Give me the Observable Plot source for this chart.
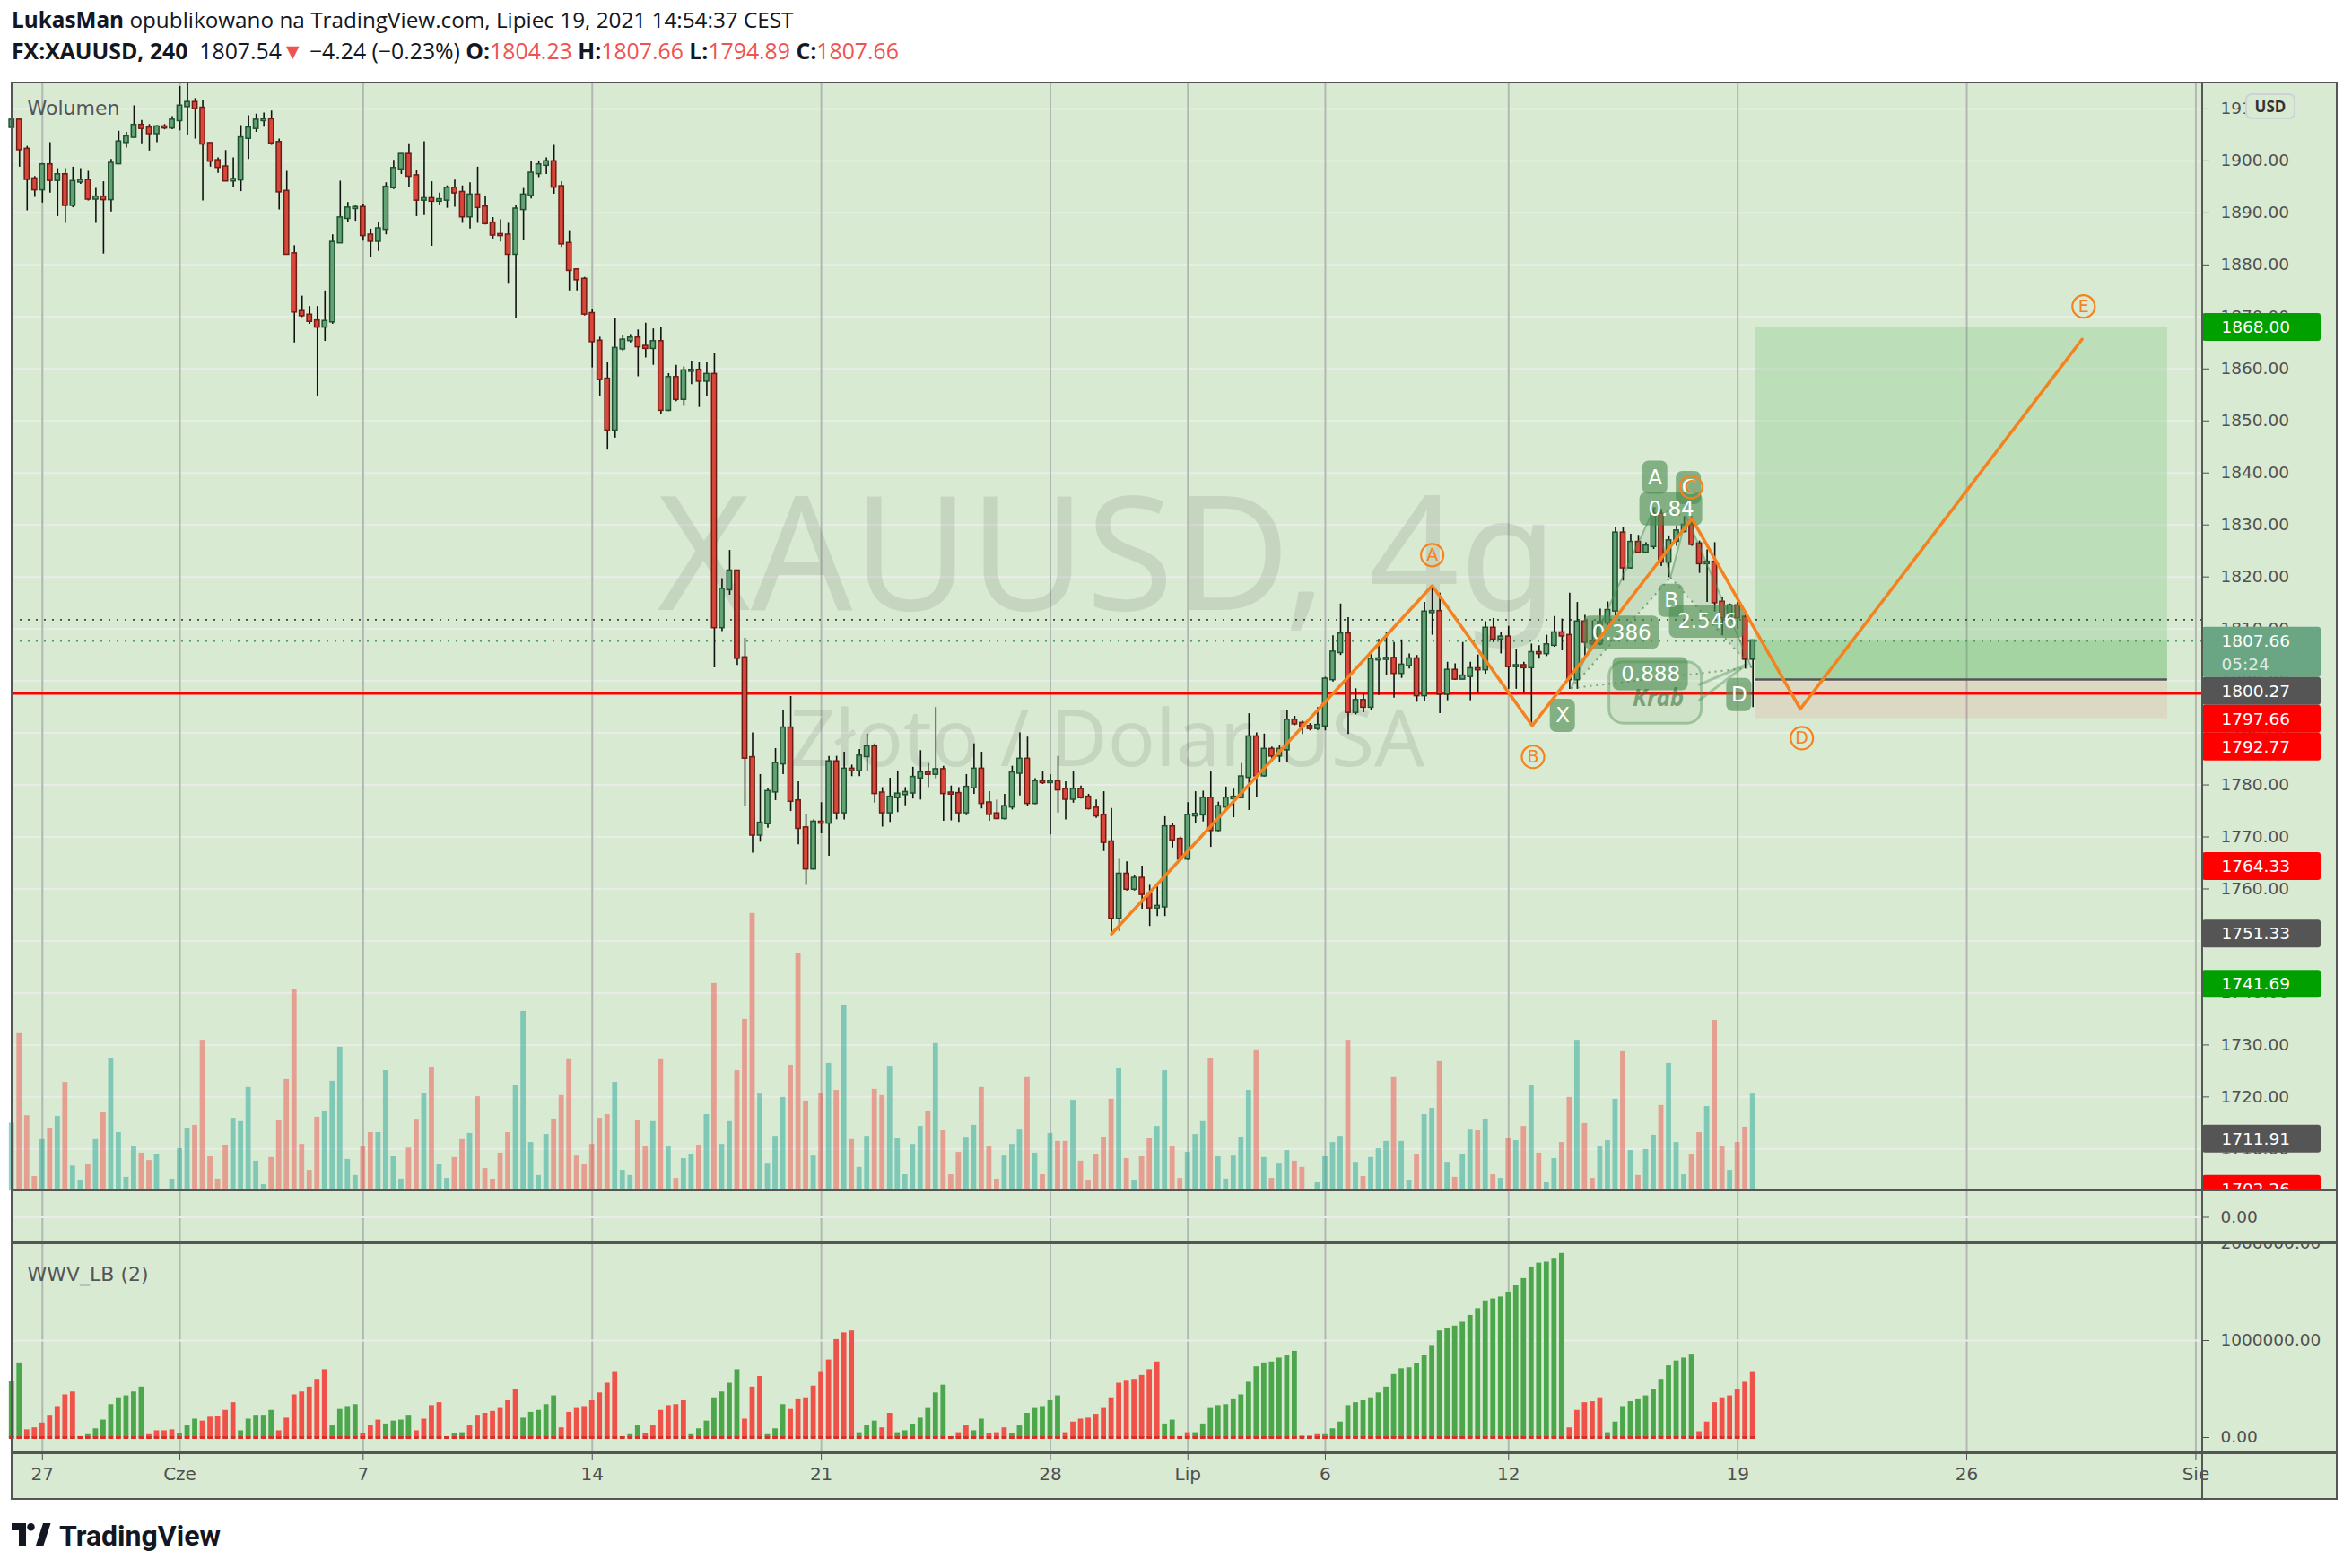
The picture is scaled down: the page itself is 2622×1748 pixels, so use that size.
<!DOCTYPE html>
<html>
<head>
<meta charset="utf-8">
<script src="https://cdn.jsdelivr.net/npm/d3@7"></script>
<script src="https://cdn.jsdelivr.net/npm/@observablehq/plot@0.6"></script>
<style>
  html, body { margin: 0; padding: 0; background: #ffffff; }
  #root { position: relative; width: 2622px; height: 1748px; overflow: hidden; }
  .abs { position: absolute; }
  .red { color: #ef5350; }
</style>
</head>
<body>
<div id="root"></div>
<script>
// ---------------- DATA ----------------
const opens = [1906.5,1907.8,1902.2,1896.5,1894.5,1899.2,1896.3,1897.3,1891.5,1896,
1896.2,1892.7,1893,1892.6,1899.5,1903.6,1904.6,1906.8,1906.3,1905.3,
1906.5,1906.4,1907.8,1910.5,1911.2,1910.1,1903.3,1900,1898.8,1896.2,
1896.4,1904.4,1906.3,1907.8,1907.9,1903.5,1894.1,1882.1,1871,1870.3,
1869.2,1868.1,1869.1,1884.3,1889,1890.9,1891,1885.7,1884.6,1886.9,
1894.9,1898.5,1901.2,1897.1,1892.5,1892.7,1892.3,1892.5,1894.7,1893.9,
1889.3,1893.4,1891.1,1888,1885.8,1885.7,1882.1,1890.7,1893.4,1897.6,
1899.2,1899.8,1895,1884.1,1879,1877.2,1870.6,1865.3,1858,1848.3,
1863.9,1865.5,1865.9,1864.3,1864,1865.2,1852.1,1858.3,1854.2,1859.6,
1859.7,1857.7,1858.9,1810.3,1817.6,1821.1,1804.4,1785.2,1770.4,1772.6,
1778.7,1784.1,1790.9,1776.9,1771.7,1763.9,1772.8,1772.7,1784.4,1774.7,
1783,1782.8,1785.5,1787.3,1778.4,1774.7,1777.6,1778.2,1778.5,1781.4,
1782.3,1782.1,1782.9,1778.4,1778.3,1774.7,1779.5,1783,1776.5,1774.4,
1773.6,1775.8,1782.3,1784.9,1776.5,1780.6,1780.5,1780.6,1779.1,1777.3,
1779.1,1777.6,1775.5,1774.1,1769,1754.4,1762.8,1760,1762,1759,
1756.4,1756.6,1771.9,1769.5,1765.8,1774.1,1774.3,1777.4,1771.3,1775.8,
1777.4,1777.6,1781.5,1789.2,1781.8,1786.8,1785.6,1786.8,1792.4,1791.8,
1791.2,1790.9,1791.4,1800.3,1805.5,1809,1794,1796.2,1795,1804.1,
1804.2,1804.3,1801.5,1803,1804.2,1797.2,1813.2,1813.3,1797.5,1802,
1800.4,1800.9,1802.3,1802.2,1810.1,1808.1,1808.4,1802.8,1802.9,1802.6,
1805.4,1805.3,1806.9,1809.2,1808.7,1800.3,1811.3,1807.5,1807.2,1811.2,
1813.5,1828.4,1821.8,1826.6,1824.8,1825.9,1832,1822.9,1826.9,1828.8,
1829.9,1826.3,1822.6,1822.8,1815.1,1812.2,1814.4,1812.2,1804.23];

const highs = [1908,1908,1902.8,1897,1899.5,1903.5,1898.5,1898.5,1898.8,1898.5,
1898,1894.7,1896,1900.3,1905.7,1905.5,1910.6,1907.8,1907,1906.8,
1907,1908.5,1914.3,1916,1912,1911.7,1903.5,1900.6,1902,1900.6,
1906.8,1908.7,1909,1909.2,1909.6,1904.2,1898,1883.7,1874,1872,
1872,1875,1885.8,1896.1,1892,1891.5,1891.7,1886.9,1888.2,1895.8,
1900.1,1901.4,1903.3,1898.1,1903.7,1896,1893.8,1895.2,1896.3,1895.2,
1895.8,1898.8,1893.1,1889.1,1888.7,1888,1891.4,1894.7,1899.8,1900,
1900.6,1903,1896,1886.6,1879.2,1877.6,1871.5,1866.1,1861.2,1869.7,
1866.4,1866.6,1867.5,1868.8,1867.7,1867.9,1859.1,1860.7,1860.4,1861.5,
1861.2,1861.2,1862.9,1819.7,1825.1,1821.3,1808.2,1790,1782,1779.3,
1787,1794.4,1797,1780.6,1774.4,1773.3,1776.6,1785.5,1785.5,1786.3,
1783.8,1786.8,1789.8,1787.9,1779.5,1781.3,1782.7,1779.5,1783.4,1786.6,
1784.1,1794.9,1783.6,1779.8,1779.5,1782,1787.9,1786.3,1778.7,1777.1,
1778.2,1783.6,1790,1789.2,1781.2,1782.5,1782,1785.5,1780.6,1782.5,
1779.8,1778.2,1777.1,1778.7,1775.5,1765.7,1765.2,1762.5,1764.4,1760.7,
1760.4,1773.9,1772.6,1770,1776.6,1778.7,1778.8,1782.5,1776.7,1779.6,
1779.2,1784.1,1793.7,1790,1789.8,1787.3,1787.5,1794.3,1793.2,1792.3,
1791.8,1794.9,1800.7,1808.7,1814.8,1812.2,1798.5,1797.7,1805.5,1808,
1809.3,1807.4,1807.9,1805.2,1804.9,1815.1,1818.3,1816.9,1803.6,1803.3,
1807.4,1803.6,1805,1811.4,1812,1809.3,1810.5,1806.1,1803.6,1807.1,
1806.8,1808.8,1812.4,1811.9,1816.9,1815.1,1812.6,1811.6,1813.8,1815.2,
1829.6,1829.6,1828.2,1828,1826.6,1833.3,1833,1827.9,1829.8,1831.6,
1831.6,1826.9,1825.2,1826.6,1816,1814.8,1815.1,1812.9,1807.66];

const lows = [1906,1898.8,1890.4,1893,1891.9,1893.8,1889.3,1888,1891,1895.5,
1892.3,1888,1882.1,1890.2,1899.3,1902.5,1904.4,1903.3,1901.9,1903.5,
1906,1906,1905.8,1905,1904.2,1892.3,1898.8,1897.6,1896,1894.9,
1894.1,1900.3,1905.5,1906.5,1903,1890.6,1882,1865,1869.9,1868.6,
1854.8,1865.3,1868.6,1884.3,1888.2,1888.4,1884.6,1881.5,1882.6,1885.8,
1894.5,1897.4,1894.9,1889.3,1889.5,1883.6,1891.4,1890.9,1891.1,1888,
1886.9,1888,1887.7,1885,1884.4,1876.3,1869.7,1884.8,1892.7,1896.8,
1897.4,1893.6,1883.4,1875,1875,1870.2,1860.2,1854.8,1844.4,1846.7,
1863.4,1865,1858.5,1862.1,1860.7,1851.3,1851.8,1853.7,1852.8,1857,
1852.6,1854.8,1802.5,1809.5,1816.5,1803,1775.8,1766.9,1769,1771.7,
1777,1782,1774.9,1768.5,1760.7,1763.6,1770.6,1766.3,1773.3,1773.3,
1781.6,1781.6,1782.5,1776.5,1771.9,1772.8,1774.7,1776,1777.3,1777.1,
1779.5,1781.2,1773,1773.1,1772.8,1774.1,1778.2,1775.4,1773,1773.3,
1773.3,1775.2,1777.9,1775.8,1776.2,1780.1,1770.4,1774.6,1773.3,1776.5,
1777.3,1775.2,1773.6,1767.2,1751.33,1751.8,1759.6,1759.6,1756.1,1752.8,
1754.7,1754.7,1767.9,1765.2,1765.5,1772.6,1772.9,1768,1771,1775.5,
1773.7,1777.4,1775.1,1777.5,1781.5,1784.4,1784.4,1784.4,1791.4,1789.7,
1790.4,1790.5,1790.4,1799.8,1804.9,1789.7,1793.5,1793.9,1794.3,1797.2,
1801,1796.7,1800.5,1802.3,1795.9,1796,1808.8,1793.7,1796.2,1800.1,
1800.2,1796.2,1797.8,1801.3,1807.4,1805.2,1798.4,1798.4,1797.8,1791.4,
1804.2,1804.7,1806.5,1805.8,1798.4,1798.4,1804.3,1806.1,1806.8,1810,
1812.5,1819.2,1821.5,1824.5,1824.5,1825.3,1822,1819.9,1825.9,1828.5,
1825.9,1820.7,1815.1,1813.3,1808.7,1811.8,1810,1802.3,1794.89];

const closes = [1907.8,1902.2,1896.5,1894.5,1899.2,1896.3,1897.3,1891.5,1896,1896.2,
1892.7,1893,1892.6,1899.5,1903.6,1904.6,1906.8,1906.3,1905.3,1906.5,
1906.4,1907.8,1910.5,1911.2,1910.1,1903.3,1900,1898.8,1896.2,1896.4,
1904.4,1906.3,1907.8,1907.9,1903.5,1894.1,1882.1,1871,1870.3,1869.2,
1868.1,1869.1,1884.3,1889,1890.9,1891,1885.7,1884.6,1886.9,1894.9,
1898.5,1901.2,1897.1,1892.5,1892.7,1892.3,1892.5,1894.7,1893.9,1889.3,
1893.4,1891.1,1888,1885.8,1885.7,1882.1,1890.7,1893.4,1897.6,1899.2,
1899.8,1895,1884.1,1879,1877.2,1870.6,1865.3,1858,1848.3,1863.9,
1865.5,1865.9,1864.3,1864,1865.2,1852.1,1858.3,1854.2,1859.6,1859.7,
1857.7,1858.9,1810.3,1817.6,1821.1,1804.4,1785.2,1770.4,1772.6,1778.7,
1784.1,1790.9,1776.9,1771.7,1763.9,1772.8,1772.7,1784.4,1774.7,1783,
1782.8,1785.5,1787.3,1778.4,1774.7,1777.6,1778.2,1778.5,1781.4,1782.3,
1782.1,1782.9,1778.4,1778.3,1774.7,1779.5,1783,1776.5,1774.4,1773.6,
1775.8,1782.3,1784.9,1776.5,1780.6,1780.5,1780.6,1779.1,1777.3,1779.1,
1777.6,1775.5,1774.1,1769,1754.4,1762.8,1760,1762,1759,1756.4,
1756.6,1771.9,1769.5,1765.8,1774.1,1774.3,1777.4,1771.3,1775.8,1777.4,
1777.6,1781.5,1789.2,1781.8,1786.8,1785.6,1786.8,1792.4,1791.8,1791.2,
1790.9,1791.4,1800.3,1805.5,1809,1794,1796.2,1795,1804.1,1804.2,
1804.3,1801.5,1803,1804.2,1797.2,1813.2,1813.3,1797.5,1802,1800.4,
1800.9,1802.3,1802.2,1810.1,1808.1,1808.4,1802.8,1802.9,1802.6,1805.4,
1805.3,1806.9,1809.2,1808.7,1800.3,1811.3,1807.5,1807.2,1811.2,1813.5,
1828.4,1821.8,1826.6,1824.8,1825.9,1832,1822.9,1826.9,1828.8,1829.9,
1826.3,1822.6,1822.8,1815.1,1812.2,1814.4,1812.2,1804.23,1807.66];

const volumes = [185,429,205,39,140,171,203,296,68,27,
71,140,213,362,159,37,120,103,83,100,
5,32,115,171,179,411,93,32,125,198,
189,282,81,17,91,191,304,549,127,56,
201,218,299,392,86,42,120,159,159,328,
93,32,117,193,267,336,71,34,91,140,
157,257,61,32,103,159,287,490,132,42,
154,196,260,358,95,71,127,198,208,296,
56,42,191,122,189,358,122,34,88,100,
125,208,566,127,189,328,468,757,264,73,
149,255,343,649,245,95,267,348,274,507,
140,64,149,277,260,340,142,44,127,176,
218,402,164,44,105,144,179,282,120,32,
95,127,166,309,103,44,157,135,135,247,
81,27,100,147,250,333,88,27,93,142,
176,328,122,34,105,154,189,360,93,32,
95,147,274,385,91,34,73,110,81,64,
5,22,93,132,149,411,78,39,91,115,
135,309,135,29,100,208,225,353,78,37,
100,166,164,196,44,34,142,137,176,287,
103,22,88,132,255,411,184,34,120,137,
250,380,110,42,113,152,233,348,132,44,
100,159,230,465,120,56,132,174,264];

// Weis Wave Volume (millions)
const wwv = [0.58,0.77,0.08,0.10,0.15,0.23,0.32,0.44,0.47,0.01,
0.03,0.09,0.18,0.34,0.41,0.43,0.47,0.52,0.03,0.07,
0.07,0.08,0.04,0.12,0.19,0.17,0.21,0.22,0.28,0.36,
0.07,0.19,0.23,0.23,0.28,0.07,0.20,0.44,0.47,0.52,
0.60,0.70,0.12,0.29,0.32,0.34,0.04,0.12,0.18,0.14,
0.17,0.18,0.23,0.07,0.19,0.33,0.36,0.01,0.04,0.05,
0.12,0.23,0.25,0.27,0.30,0.38,0.50,0.20,0.26,0.28,
0.34,0.43,0.10,0.26,0.30,0.32,0.38,0.46,0.56,0.68,
0.01,0.03,0.12,0.04,0.12,0.28,0.33,0.34,0.38,0.03,
0.09,0.17,0.41,0.47,0.56,0.70,0.19,0.52,0.63,0.03,
0.09,0.34,0.29,0.39,0.41,0.53,0.68,0.80,1.01,1.08,
1.10,0.05,0.12,0.17,0.10,0.25,0.05,0.07,0.13,0.20,
0.30,0.46,0.54,0.01,0.05,0.12,0.07,0.19,0.04,0.05,
0.10,0.04,0.12,0.25,0.30,0.32,0.38,0.43,0.05,0.16,
0.19,0.20,0.24,0.30,0.41,0.56,0.59,0.60,0.64,0.70,
0.78,0.14,0.18,0.01,0.05,0.05,0.14,0.30,0.33,0.34,
0.39,0.44,0.57,0.73,0.77,0.78,0.82,0.85,0.89,0.015,
0.015,0.03,0.03,0.09,0.16,0.33,0.36,0.38,0.41,0.46,
0.52,0.65,0.71,0.72,0.76,0.85,0.95,1.10,1.13,1.15,
1.19,1.26,1.33,1.41,1.43,1.45,1.50,1.57,1.64,1.76,
1.80,1.81,1.85,1.90,0.10,0.28,0.36,0.37,0.41,0.05,
0.16,0.32,0.37,0.39,0.43,0.50,0.60,0.74,0.79,0.82,
0.86,0.06,0.16,0.36,0.41,0.43,0.49,0.57,0.68];
// wave direction per bar: 1 = up wave (green), 0 = down wave (red)
const wwvUp = ("11" + "00000000" + "11111111" + "0000" + "111" + "00000" + "11111" + "0000000" +
  "1111" + "000" + "1111" + "00000" + "11" + "0000000" + "11111" + "000000000" + "11" + "000000" +
  "1111111" + "000" + "111" + "000000000" + "111" + "00" + "1111111" + "000" + "11" + "000" +
  "1111111" + "0000000000000" + "11" + "00" + "11111111111111" + "000" +
  "11111111111111111111111111111111" + "00000" + "111111111111" + "00000000").split("");

// time axis: bar index of first bar of each labelled day
const tickBars = [4, 22, 46, 76, 106, 136, 154, 172, 196, 226, 256, 286];
const tickLabels = ["27", "Cze", "7", "14", "21", "28", "Lip", "6", "12", "19", "26", "Sie"];
const priceTicks = d3.range(1710, 1911, 10);

// horizontal levels
const redLevel = 1797.66;
const prevClose = 1811.78;
const lastPrice = 1807.66;

// long position tool
const posBars = [228.3, 282.3];
const posEntry = 1800.27, posTarget = 1868.00, posStop = 1792.77;

// axis price badges
const badgeValues = [1868.00, 1807.66, 1800.27, 1797.66, 1792.77, 1764.33, 1751.33, 1741.69, 1711.91, 1702.26];
const badgeColors = ["#00a000", "#6aa684", "#555555", "#ff0000", "#ff0000", "#ff0000", "#555555", "#00a000", "#555555", "#ff0000"];
const badgeSubs = ["", "05:24", "", "", "", "", "", "", "", ""];

// orange ABCDE projection drawing
const abcdBars = [144, 186, 199.1, 220, 234.2, 271.1];
const abcdPrices = [1751.33, 1818.3, 1791.4, 1831.2, 1794.6, 1865.7];
const abcdNames = ["A", "B", "C", "D", "E"];
const abcdTagBars = [186, 199.2, 219.9, 234.4, 271.3];
const abcdTagPrices = [1824.2, 1785.4, 1837.3, 1789.0, 1872.0];

// XABCD harmonic pattern ("Krab")
const krabNames = ["X", "A", "B", "C", "D"];
const krabBars = [204.2, 215.1, 217.2, 219.3, 227.8];
const krabPrices = [1798.6, 1833.3, 1819.9, 1831.6, 1802.6];
const krabTagBars = [203.1, 215.2, 217.3, 219.6, 226.2];
const krabTagPrices = [1793.3, 1839.1, 1815.4, 1837.1, 1797.3];
const ratioText = ["0.386", "0.84", "2.546", "0.888"];
const ratioBars = [210.8, 217.3, 222.0, 214.6];
const ratioPrices = [1809.3, 1833.0, 1811.4, 1801.3];
const krabName = "Krab";
const krabNameBar = 215.6, krabNamePrice = 1796.6;
const bubbleBars = [209.2, 221.3];
const bubblePrices = [1791.8, 1803.6];

// ---------------- LAYOUT ----------------
const root = document.getElementById("root");
function addDiv(style, html) {
  const d = document.createElement("div");
  d.className = "abs";
  Object.assign(d.style, style);
  if (html) d.innerHTML = html;
  root.appendChild(d);
  return d;
}
function place(svg, top) {
  svg.style.position = "absolute";
  svg.style.left = "0px";
  svg.style.top = top + "px";
  svg.style.overflow = "hidden";
  svg.style.background = "transparent";
  root.appendChild(svg);
}

const MAIN_TOP = 92, MAIN_BOT = 1327, MINI_BOT = 1386, WWV_BOT = 1620, FRAME_B = 1672;
const AXIS_X = 2455, FRAME_L = 13;
const xDomain = [0.03, 286.89];
const priceDomain = [1701.95, 1914.99];
const mainH = MAIN_BOT - MAIN_TOP;
const ORANGE = "#f5821e";
const GRID_H = "#e8ede6", GRID_V = "#b3b7b1";

const bars = opens.map((o, i) => ({
  i, o, h: highs[i], l: lows[i], c: closes[i], v: volumes[i],
  w: wwv[i] * 1e6, up: closes[i] >= o, wUp: wwvUp[i] === "1"
}));

const base = (h, extra) => ({
  width: 2622, height: h, marginLeft: FRAME_L, marginRight: 2622 - AXIS_X, marginTop: 0, marginBottom: 0,
  x: {domain: xDomain, axis: null, label: null},
  color: {type: "identity"},
  style: {background: "transparent", fontFamily: "DejaVu Sans", color: "#505050"},
  ...extra
});

// chart frame background
addDiv({left: "12px", top: "91px", width: "2594px", height: (FRAME_B - 91) + "px", background: "#d9ead3"});

// header
addDiv({left: "13px", top: "7px", fontFamily: "'Open Sans', sans-serif", fontSize: "24.3px", lineHeight: "30px", color: "#131722", whiteSpace: "nowrap"},
  "<b>LukasMan</b> opublikowano na TradingView.com, Lipiec 19, 2021 14:54:37 CEST");
addDiv({left: "13px", top: "41px", fontFamily: "'Open Sans', sans-serif", fontSize: "24.8px", lineHeight: "30px", color: "#131722", whiteSpace: "nowrap"},
  "<b>FX:XAUUSD, 240</b>&nbsp; 1807.54<span class='red'>▼</span> −4.24 (−0.23%) <b>O:</b><span class='red'>1804.23</span> <b>H:</b><span class='red'>1807.66</span> <b>L:</b><span class='red'>1794.89</span> <b>C:</b><span class='red'>1807.66</span>");

// ---- grid + watermark (price pane) ----
place(Plot.plot({
  ...base(mainH),
  y: {domain: priceDomain, axis: null, label: null},
  marks: [
    Plot.ruleY(priceTicks, {stroke: GRID_H, strokeWidth: 2}),
    Plot.ruleX(tickBars, {stroke: GRID_V, strokeWidth: 2}),
    Plot.text(["XAUUSD, 4g"], {text: d => d, frameAnchor: "middle", dy: -87, fontSize: 178, fontFamily: "Noto Sans", fill: "#000", fillOpacity: 0.085}),
    Plot.text(["Złoto / Dolar USA"], {text: d => d, frameAnchor: "middle", dy: 116, fontSize: 88, fontFamily: "Noto Sans", fill: "#000", fillOpacity: 0.085})
  ]
}), MAIN_TOP);

// ---- volume overlay ----
place(Plot.plot({
  ...base(mainH),
  y: {domain: [0, 3024], axis: null, label: null},
  marks: [
    Plot.rectY(bars, {x1: d => d.i - 0.34, x2: d => d.i + 0.34, y: "v", fill: d => d.up ? "#26a69a" : "#ef5350", fillOpacity: 0.5})
  ]
}), MAIN_TOP);

// ---- price pane ----
const yS = Plot.scale({y: {domain: priceDomain, range: [mainH, 0]}});
const xS = Plot.scale({x: {domain: xDomain, range: [FRAME_L, AXIS_X]}});
const barPx = xS.apply(1) - xS.apply(0);
const pricePx = yS.apply(0) - yS.apply(1);

// badge layout (push overlapping labels down like the platform does)
let prevBottom = -Infinity;
const badgeRows = badgeValues.map((v, k) => ({v, color: badgeColors[k], sub: badgeSubs[k]}))
  .sort((a, b) => b.v - a.v)
  .map(b => {
    const hgt = b.sub ? 56 : 31;
    let top = yS.apply(b.v) - 15.5;
    if (top < prevBottom) top = prevBottom;
    prevBottom = top + hgt;
    return {
      ...b, label: b.v.toFixed(2),
      y1: yS.invert(top), y2: yS.invert(top + hgt),
      ym: yS.invert(top + 15.5), ys: yS.invert(top + 42),
      x1: xS.invert(AXIS_X), x2: xS.invert(AXIS_X + 132), xt: xS.invert(AXIS_X + 21)
    };
  });

const abcdRows = abcdBars.map((x, k) => ({x, y: abcdPrices[k]}));
const abcdTags = abcdNames.map((n, k) => ({n, x: abcdTagBars[k], y: abcdTagPrices[k]}));
const kp = krabNames.map((n, k) => ({n, x: krabBars[k], y: krabPrices[k]}));
const [pX, pA, pB, pC, pD] = kp;
const dottedPairs = [[pX, pB], [pA, pC], [pB, pD], [pX, pD]];
const tagRows = krabNames.map((t, k) => ({t, x: krabTagBars[k], y: krabTagPrices[k]}));
const ratioRows = ratioText.map((t, k) => ({t, x: ratioBars[k], y: ratioPrices[k]}));
const boxW = t => (14 + 14 * t.length) / barPx;
const boxH = 37 / pricePx;
const labelBox = rows => Plot.rect(rows, {
  x1: d => d.x - boxW(d.t) / 2, x2: d => d.x + boxW(d.t) / 2,
  y1: d => d.y - boxH / 2, y2: d => d.y + boxH / 2,
  fill: "#4c8c50", fillOpacity: 0.62, rx: 7
});
const labelText = rows => Plot.text(rows, {x: "x", y: "y", text: "t", fill: "#ffffff", fontSize: 23, fontFamily: "DejaVu Sans"});
const bubble = [{x1: bubbleBars[0], x2: bubbleBars[1], y1: bubblePrices[0], y2: bubblePrices[1]}];
const tail = [{x: bubbleBars[1] - 0.3, y: bubblePrices[0] + 7.5}, {x: pD.x - 0.6, y: pD.y + 0.6}, {x: bubbleBars[1] - 0.3, y: bubblePrices[0] + 4.5}];

const pos = [{x1: posBars[0], x2: posBars[1]}];

place(Plot.plot({
  ...base(mainH),
  y: {domain: priceDomain, axis: null, label: null},
  marks: [
    // long position tool
    Plot.rect(pos, {x1: "x1", x2: "x2", y1: () => posEntry, y2: () => posTarget, fill: "#4caf50", fillOpacity: 0.2}),
    Plot.rect(pos, {x1: "x1", x2: "x2", y1: () => posEntry, y2: () => lastPrice, fill: "#4caf50", fillOpacity: 0.2}),
    Plot.rect(pos, {x1: "x1", x2: "x2", y1: () => posStop, y2: () => posEntry, fill: "#f23645", fillOpacity: 0.1}),
    Plot.ruleY([posEntry], {x1: posBars[0], x2: posBars[1], stroke: "#555", strokeWidth: 2.5}),
    // level lines
    Plot.ruleY([prevClose], {stroke: "#444", strokeWidth: 1.8, strokeDasharray: "2,7"}),
    Plot.ruleY([lastPrice], {stroke: "#4f9a6a", strokeWidth: 1.8, strokeDasharray: "2,7"}),
    Plot.ruleY([redLevel], {stroke: "#ff0000", strokeWidth: 3.5}),
    // harmonic pattern fills
    Plot.line([pX, pA, pB, pX], {x: "x", y: "y", fill: "#4c8c50", fillOpacity: 0.13, stroke: "none"}),
    Plot.line([pB, pC, pD, pB], {x: "x", y: "y", fill: "#4c8c50", fillOpacity: 0.13, stroke: "none"}),
    Plot.rect(bubble, {x1: "x1", x2: "x2", y1: "y1", y2: "y2", rx: 16, fill: "#4c8c50", fillOpacity: 0.08, stroke: "#4c8c50", strokeOpacity: 0.4, strokeWidth: 3}),
    Plot.line(tail, {x: "x", y: "y", stroke: "#4c8c50", strokeOpacity: 0.4, strokeWidth: 3}),
    // candles
    Plot.ruleX(bars, {x: "i", y1: "l", y2: "h", stroke: "#111", strokeWidth: 1.6}),
    Plot.rect(bars, {x1: d => d.i - 0.31, x2: d => d.i + 0.31, y1: "o", y2: "c", insetTop: -0.8, insetBottom: -0.8,
      fill: d => d.up ? "#62a274" : "#d9473a", stroke: d => d.up ? "#1f5130" : "#6e1c14", strokeWidth: 1.5}),
    // harmonic pattern lines & labels
    Plot.line([pX, pA, pB, pC, pD], {x: "x", y: "y", stroke: "#4c8c50", strokeOpacity: 0.5, strokeWidth: 2}),
    Plot.link(dottedPairs, {x1: d => d[0].x, y1: d => d[0].y, x2: d => d[1].x, y2: d => d[1].y, stroke: "#4c8c50", strokeOpacity: 0.7, strokeWidth: 2, strokeDasharray: "2,5"}),
    labelBox(tagRows),
    labelText(tagRows),
    labelBox(ratioRows),
    labelText(ratioRows),
    Plot.text([{t: krabName, x: krabNameBar, y: krabNamePrice}], {x: "x", y: "y", text: "t", fontSize: 26, fontWeight: "bold", fontStyle: "italic", fontFamily: "Noto Sans", fill: "#2f6b33", fillOpacity: 0.55}),
    // orange projection
    Plot.line(abcdRows, {x: "x", y: "y", stroke: ORANGE, strokeWidth: 3.5}),
    Plot.dot(abcdTags, {x: "x", y: "y", r: 12.5, stroke: ORANGE, strokeWidth: 2.2, fill: "none"}),
    Plot.text(abcdTags, {x: "x", y: "y", text: "n", fill: ORANGE, fontSize: 19, fontFamily: "DejaVu Sans"}),
    // pane title
    Plot.text(["Wolumen"], {text: d => d, frameAnchor: "top-left", textAnchor: "start", lineAnchor: "middle", dx: 17, dy: 28, fontSize: 22, fontFamily: "DejaVu Sans", fill: "#555"}),
    // price axis
    Plot.axisY(priceTicks, {anchor: "right", label: null, tickSize: 7, tickPadding: 13, tickFormat: d => d.toFixed(2), fontSize: 18.5}),
    // price badges
    Plot.rect(badgeRows, {x1: "x1", x2: "x2", y1: "y1", y2: "y2", fill: "color", rx: 3}),
    Plot.text(badgeRows, {x: "xt", y: "ym", text: "label", textAnchor: "start", fill: "#ffffff", fontSize: 18.5, fontFamily: "DejaVu Sans"}),
    Plot.text(badgeRows.filter(d => d.sub), {x: "xt", y: "ys", text: "sub", textAnchor: "start", fill: "#ffffff", fillOpacity: 0.8, fontSize: 18.5, fontFamily: "DejaVu Sans"})
  ]
}), MAIN_TOP);

// ---- empty mini pane ----
place(Plot.plot({
  ...base(MINI_BOT - MAIN_BOT),
  y: {domain: [-1, 1], axis: null, label: null},
  marks: [
    Plot.ruleX(tickBars, {stroke: GRID_V, strokeWidth: 2}),
    Plot.ruleY([0], {stroke: GRID_H, strokeWidth: 2}),
    Plot.axisY([0], {anchor: "right", label: null, tickSize: 7, tickPadding: 13, tickFormat: d => d.toFixed(2), fontSize: 18.5})
  ]
}), MAIN_BOT);

// ---- WWV pane + time axis ----
place(Plot.plot({
  ...base(FRAME_B - MINI_BOT),
  marginBottom: FRAME_B - WWV_BOT,
  y: {domain: [-166667, 2000000], axis: null, label: null},
  marks: [
    Plot.ruleX(tickBars, {stroke: GRID_V, strokeWidth: 2}),
    Plot.ruleY([1e6], {stroke: GRID_H, strokeWidth: 2}),
    Plot.rectY(bars, {x1: d => d.i - 0.34, x2: d => d.i + 0.34, y: "w", fill: d => d.wUp ? "#4ca64c" : "#f0524a"}),
    Plot.ruleY(bars, {y: () => 0, x1: d => d.i - 0.34, x2: d => d.i + 0.34, stroke: "#d83028", strokeWidth: 3}),
    Plot.text(["WWV_LB (2)"], {text: d => d, frameAnchor: "top-left", textAnchor: "start", lineAnchor: "middle", dx: 17, dy: 34, fontSize: 22, fontFamily: "DejaVu Sans", fill: "#555"}),
    Plot.axisY([0, 1e6, 2e6], {anchor: "right", label: null, tickSize: 7, tickPadding: 13, tickFormat: d => d.toFixed(2), fontSize: 18.5}),
    Plot.axisX(tickBars, {anchor: "bottom", label: null, tickSize: 8, tickPadding: 7, tickFormat: d => tickLabels[tickBars.indexOf(d)], fontSize: 20})
  ]
}), MINI_BOT);

// pane separators and frame
addDiv({left: "12px", top: (MAIN_BOT - 2) + "px", width: "2594px", height: "3px", background: "#555"});
addDiv({left: "12px", top: (MINI_BOT - 2) + "px", width: "2594px", height: "3px", background: "#555"});
addDiv({left: "12px", top: (WWV_BOT - 2) + "px", width: "2594px", height: "3px", background: "#555"});
addDiv({left: (AXIS_X - 1) + "px", top: "91px", width: "2px", height: (FRAME_B - 91) + "px", background: "#555"});
addDiv({left: "12px", top: "91px", width: "2594px", height: (FRAME_B - 91) + "px", border: "2px solid #555", boxSizing: "border-box"});

// currency button
addDiv({left: "2503px", top: "104px", width: "56px", height: "29px", border: "2px solid #cdd2d6", borderRadius: "7px", background: "#d9ead3",
  boxSizing: "border-box", fontFamily: "'Open Sans', sans-serif", fontWeight: "bold", fontSize: "17px", lineHeight: "25px", textAlign: "center", color: "#333"}, "USD");

// footer logo + wordmark
addDiv({left: "13px", top: "1697px", width: "46px", height: "30px"},
  "<svg width='46' height='30' xmlns='http://www.w3.org/2000/svg'>" +
  "<path d='M0 1 H16 V26 H8 V9 H0 Z' fill='#131722'/>" +
  "<circle cx='21.5' cy='5.2' r='4.2' fill='#131722'/>" +
  "<path d='M27 26 L35 1 H43.5 L35.5 26 Z' fill='#131722'/>" +
  "</svg>");
addDiv({left: "66px", top: "1692px", fontFamily: "Roboto, sans-serif", fontWeight: "bold", fontSize: "32px", lineHeight: "40px", color: "#131722", whiteSpace: "nowrap"}, "TradingView");
</script>
</body>
</html>
